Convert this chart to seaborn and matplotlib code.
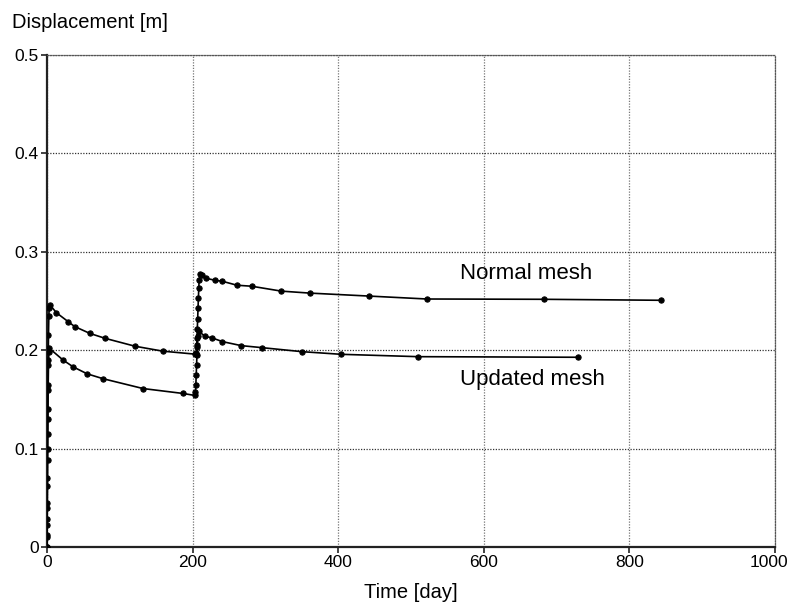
import matplotlib
matplotlib.use("Agg")
import matplotlib.pyplot as plt
import matplotlib.transforms as mtransforms
import seaborn as sns
import pandas as pd

normal_time = [0, 0.1, 0.2, 0.3, 0.5, 0.7, 1.0, 1.3, 1.6, 2.0, 2.5, 3, 4, 13, 29, 38, 59, 80, 121, 159, 203,
               205, 205.5, 206, 206.5, 207, 207.5, 208, 208.5, 209, 210, 213, 219, 231, 241, 261, 281,
               322, 361, 442, 522, 683, 844]
normal_disp = [0, 0.012, 0.028, 0.045, 0.07, 0.1, 0.13, 0.16, 0.19, 0.215, 0.235, 0.243, 0.246, 0.238,
               0.229, 0.224, 0.217, 0.212, 0.204, 0.199, 0.196,
               0.197, 0.203, 0.212, 0.222, 0.232, 0.243, 0.253, 0.263, 0.271, 0.277, 0.276, 0.273,
               0.271, 0.27, 0.266, 0.265, 0.26, 0.258, 0.255, 0.252, 0.2517, 0.2507]

updated_time = [0, 0.1, 0.2, 0.3, 0.5, 0.7, 1.0, 1.3, 1.6, 2.0, 2.5, 3, 22, 36, 55, 77, 132, 187, 203,
                204, 204.5, 205, 205.5, 206, 206.5, 207, 209, 217, 226, 241, 267, 295, 350, 404,
                510, 729]
updated_disp = [0, 0.01, 0.022, 0.04, 0.062, 0.088, 0.115, 0.14, 0.165, 0.185, 0.198, 0.202, 0.19,
                0.183, 0.176, 0.171, 0.161, 0.156, 0.154,
                0.158, 0.165, 0.175, 0.185, 0.195, 0.205, 0.214, 0.219, 0.214, 0.2127, 0.2087,
                0.2046, 0.2026, 0.1985, 0.1958, 0.1934, 0.1928]

x_ticks = [0, 200, 400, 600, 800, 1000]
y_ticks = [0, 0.1, 0.2, 0.3, 0.4, 0.5]
y_tick_labels = ["0", "0.1", "0.2", "0.3", "0.4", "0.5"]

sns.set_style("white")
plt.rcParams["font.family"] = ["Liberation Sans", "DejaVu Sans"]
plt.rcParams["text.color"] = "black"
plt.rcParams["axes.labelcolor"] = "black"
plt.rcParams["xtick.color"] = "black"
plt.rcParams["ytick.color"] = "black"

fig = plt.figure(figsize=(7.89, 6.04), dpi=100)
ax = fig.add_axes([0.0596, 0.0944, 0.9224, 0.8146])

df_normal = pd.DataFrame({"time": normal_time, "disp": normal_disp})
df_updated = pd.DataFrame({"time": updated_time, "disp": updated_disp})

for df in (df_normal, df_updated):
    sns.lineplot(data=df, x="time", y="disp", ax=ax, sort=False, estimator=None,
                 color="black", linewidth=1.2, marker="o", markersize=3.8,
                 markeredgecolor="black", zorder=3)

ax.set_xlim(0, 1000)
ax.set_ylim(0, 0.5)
ax.set_xticks(x_ticks)
ax.set_yticks(y_ticks)
ax.set_yticklabels(y_tick_labels)

ax.grid(True, linestyle=(0, (1, 1.2)), color="#333333", linewidth=0.9)
ax.xaxis.grid(True, color="#777777")

for side in ("left", "bottom"):
    ax.spines[side].set_color("#222222")
    ax.spines[side].set_linewidth(1.6)
for side in ("top", "right"):
    ax.spines[side].set_linestyle((0, (1, 1.2)))
    ax.spines[side].set_color("#555555")
    ax.spines[side].set_linewidth(0.9)

ax.tick_params(axis="both", direction="out", length=4, width=1.2, color="#222222",
               labelsize=12.5, pad=2, left=True, bottom=True)

# last x label sits a little left of its tick, as in the original
last = ax.get_xticklabels()[-1]
last.set_horizontalalignment("right")
last.set_transform(last.get_transform() + mtransforms.ScaledTranslation(10 / 72, 0, fig.dpi_scale_trans))

ax.set_xlabel("Time [day]", fontsize=14.5, labelpad=9)
ax.set_ylabel("")
fig.text(0.015, 0.963, "Displacement [m]", fontsize=14.5, ha="left", va="center")

ax.text(567, 0.278, "Normal mesh", fontsize=16, ha="left", va="center")
ax.text(567, 0.170, "Updated mesh", fontsize=16, ha="left", va="center")

fig.savefig("out.png", dpi=100)
